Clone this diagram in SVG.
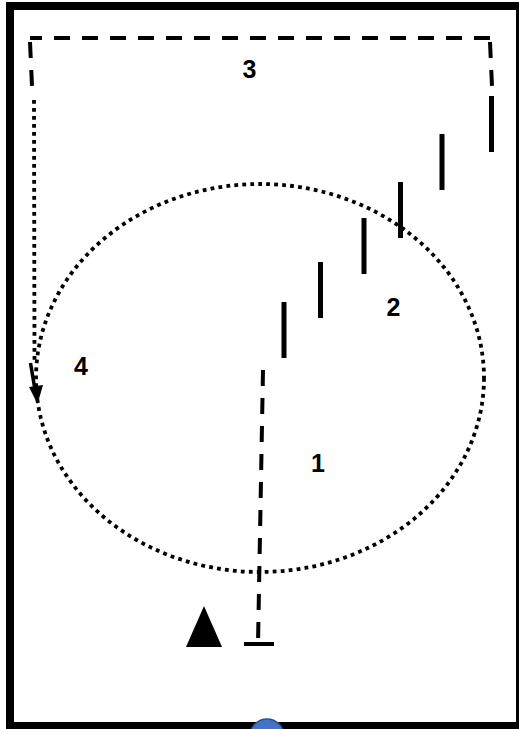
<svg xmlns="http://www.w3.org/2000/svg" width="519" height="729" viewBox="0 0 519 729">
  <style>
    .dash { fill: none; stroke: #000; stroke-width: 4; stroke-dasharray: 16 12; }
    .dot { fill: none; stroke: #000; stroke-width: 3.8; stroke-dasharray: 3.8 4.2; }
    .bar { stroke: #000; stroke-width: 5; }
    .lbl { font-family: "Liberation Sans", Arial, sans-serif; font-weight: bold; font-size: 25px; text-anchor: middle; fill: #000; }
  </style>
  <rect x="0" y="0" width="519" height="729" fill="#fff"/>
  <rect id="frame" x="10" y="6" width="510" height="720" fill="none" stroke="#000" stroke-width="8"/>

  <g id="zone-circle">
    <ellipse class="dot" cx="260" cy="378" rx="224" ry="194"/>
  </g>

  <g id="poles">
    <line class="bar" x1="284" y1="302" x2="284" y2="358"/>
    <line class="bar" x1="320.5" y1="262" x2="320.5" y2="318"/>
    <line class="bar" x1="364" y1="218" x2="364" y2="274"/>
    <line class="bar" x1="400.5" y1="182" x2="400.5" y2="238"/>
    <line class="bar" x1="442" y1="134" x2="442" y2="190"/>
    <line class="bar" x1="491.5" y1="96" x2="491.5" y2="152"/>
  </g>

  <g id="cone">
    <polygon points="204,606 186,647 222,647" fill="#000"/>
  </g>

  <g id="start">
    <line x1="244" y1="644" x2="274" y2="644" stroke="#000" stroke-width="4"/>
  </g>

  <g id="player">
    <circle cx="267" cy="736" r="17" fill="#4472C4" stroke="#2F528F" stroke-width="1.5"/>
  </g>

  <g id="connectors">
    <line class="dash" x1="263" y1="370" x2="258" y2="644"/>
    <line class="dash" x1="30" y1="38" x2="490" y2="38" stroke-dashoffset="4"/>
    <line class="dash" x1="30" y1="42" x2="32" y2="86"/>
    <line class="dash" x1="490" y1="42" x2="492" y2="86"/>
    <line class="dot" x1="34" y1="100" x2="34.5" y2="362"/>
    <line x1="30.5" y1="363" x2="35" y2="390" stroke="#000" stroke-width="3.5"/>
    <polygon points="37.5,404 29,387 43,385" fill="#000"/>
  </g>

  <g id="labels">
    <text class="lbl" x="249.5" y="78">3</text>
    <text class="lbl" x="393.5" y="316">2</text>
    <text class="lbl" x="81" y="375">4</text>
    <text class="lbl" x="318" y="472">1</text>
  </g>
</svg>
